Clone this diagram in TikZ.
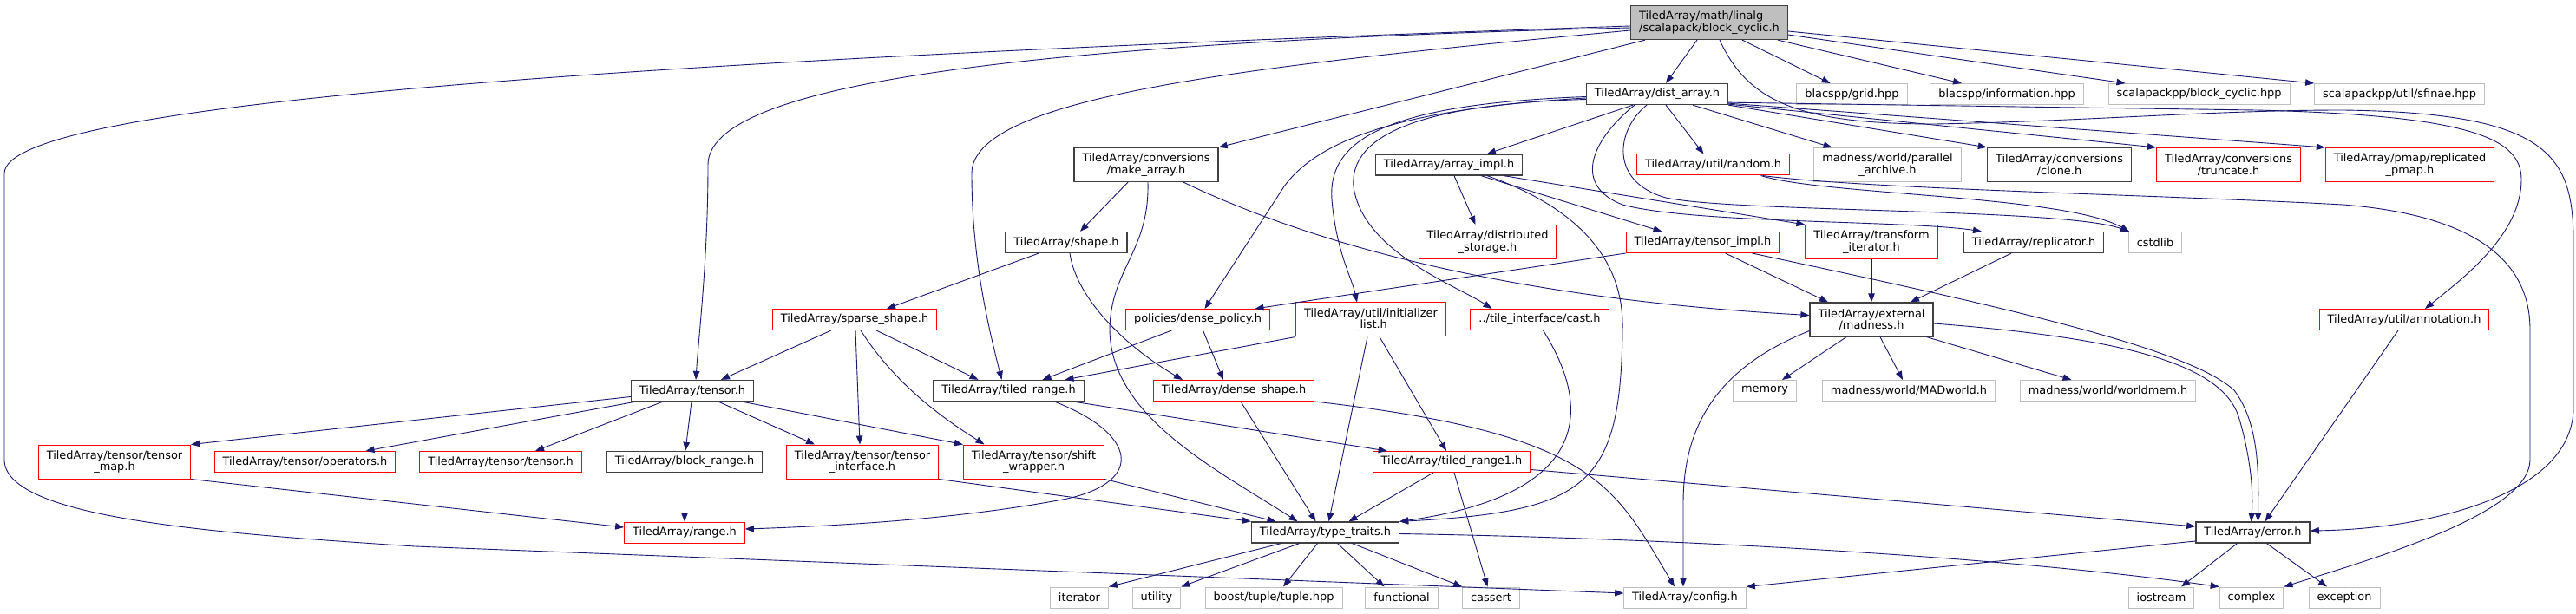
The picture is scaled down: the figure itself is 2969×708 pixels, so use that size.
\documentclass[tikz,border=0pt]{standalone}
\usepackage{fontspec}
\setmainfont{DejaVu Sans}
\usetikzlibrary{arrows.meta}
\definecolor{depblue}{HTML}{191970}
\definecolor{docgray}{HTML}{404040}
\definecolor{sysgray}{HTML}{BFBFBF}
\definecolor{cutred}{HTML}{FF0000}
\begin{document}
\begin{tikzpicture}[x=1pt, y=-1pt,
    file/.style={draw, rectangle, fill=white, line width=1pt, inner xsep=9.5pt, inner ysep=4pt,
      minimum height=24pt, align=center, font=\fontsize{12.9}{13.5}\selectfont},
    docfile/.style={file, draw=docgray, line width=1.3pt},
    cutfile/.style={file, draw=cutred},
    sysfile/.style={file, draw=sysgray},
    rootfile/.style={file, draw=docgray, fill=sysgray, line width=1.3pt, align=left},
    twoline/.style={minimum height=39pt},
    dep/.style={draw=depblue, line width=0.9pt, -{Triangle[length=10pt,width=7.5pt]}}]
    \fill[white] (0,0) rectangle (2969,708);
    \useasboundingbox (0,0) rectangle (2969,708);

    \node[rootfile, twoline] (root) at (1970,26) {TiledArray/math/linalg\\/scalapack/block\_cyclic.h};

    \node[docfile] (dist) at (1910,108.5) {TiledArray/dist\_array.h};
    \node[sysfile] (grid) at (2134.5,108.5) {blacspp/grid.hpp};
    \node[sysfile] (info) at (2313,108.5) {blacspp/information.hpp};
    \node[sysfile] (scblock) at (2534.5,108.5) {scalapackpp/block\_cyclic.hpp};
    \node[sysfile] (sfinae) at (2765.5,108.5) {scalapackpp/util/sfinae.hpp};

    \node[docfile, twoline] (makearr) at (1321,190) {TiledArray/conversions\\/make\_array.h};
    \node[docfile] (arrimpl) at (1670,190) {TiledArray/array\_impl.h};
    \node[cutfile] (random) at (1974.5,190) {TiledArray/util/random.h};
    \node[sysfile, twoline] (parchive) at (2175.5,190) {madness/world/parallel\\\_archive.h};
    \node[docfile, twoline] (clone) at (2373.5,190) {TiledArray/conversions\\/clone.h};
    \node[cutfile, twoline] (truncate) at (2568.5,190) {TiledArray/conversions\\/truncate.h};
    \node[cutfile, twoline] (pmap) at (2777.5,190) {TiledArray/pmap/replicated\\\_pmap.h};

    \node[docfile] (shape) at (1229,279.5) {TiledArray/shape.h};
    \node[cutfile, twoline] (diststor) at (1714.5,279) {TiledArray/distributed\\\_storage.h};
    \node[cutfile] (tensimpl) at (1962.5,279.5) {TiledArray/tensor\_impl.h};
    \node[cutfile, twoline] (transit) at (2157,279) {TiledArray/transform\\\_iterator.h};
    \node[docfile] (replic) at (2344,279.5) {TiledArray/replicator.h};
    \node[sysfile] (cstdlib) at (2484,279.5) {cstdlib};

    \node[cutfile] (sparse) at (985,368.5) {TiledArray/sparse\_shape.h};
    \node[cutfile] (densepol) at (1380.5,368.5) {policies/dense\_policy.h};
    \node[cutfile, twoline] (initlist) at (1580,368.5) {TiledArray/util/initializer\\\_list.h};
    \node[cutfile] (cast) at (1774.5,368.5) {../tile\_interface/cast.h};
    \node[docfile, twoline] (madness) at (2157,368.5) {TiledArray/external\\/madness.h};
    \node[cutfile] (annot) at (2771,368.5) {TiledArray/util/annotation.h};

    \node[docfile] (tensor) at (798,450.5) {TiledArray/tensor.h};
    \node[docfile] (tiledrange) at (1162.5,450.5) {TiledArray/tiled\_range.h};
    \node[cutfile] (denseshape) at (1422,450.5) {TiledArray/dense\_shape.h};
    \node[sysfile] (memory) at (2034,450.5) {memory};
    \node[sysfile] (madworld) at (2200,450.5) {madness/world/MADworld.h};
    \node[sysfile] (worldmem) at (2429.5,450.5) {madness/world/worldmem.h};

    \node[cutfile, twoline] (tmap) at (132,532.5) {TiledArray/tensor/tensor\\\_map.h};
    \node[cutfile] (oper) at (351.5,532.5) {TiledArray/tensor/operators.h};
    \node[cutfile] (ttensor) at (577,532.5) {TiledArray/tensor/tensor.h};
    \node[docfile] (blockrange) at (789,532.5) {TiledArray/block\_range.h};
    \node[cutfile, twoline] (tiface) at (994,532.5) {TiledArray/tensor/tensor\\\_interface.h};
    \node[cutfile, twoline] (shiftw) at (1191.5,532.5) {TiledArray/tensor/shift\\\_wrapper.h};
    \node[cutfile] (tr1) at (1673,532.5) {TiledArray/tiled\_range1.h};

    \node[cutfile] (range) at (789,614) {TiledArray/range.h};
    \node[docfile] (typetr) at (1527.5,614) {TiledArray/type\_traits.h};
    \node[docfile] (error) at (2596.5,614) {TiledArray/error.h};

    \node[sysfile] (iterator) at (1244,689) {iterator};
    \node[sysfile] (utility) at (1333,689) {utility};
    \node[sysfile] (boosttuple) at (1468,689) {boost/tuple/tuple.hpp};
    \node[sysfile] (functional) at (1615.5,689) {functional};
    \node[sysfile] (cassert) at (1718.5,689) {cassert};
    \node[sysfile] (config) at (1942,689) {TiledArray/config.h};
    \node[sysfile] (iostream) at (2491,689) {iostream};
    \node[sysfile] (complex) at (2595,689) {complex};
    \node[sysfile] (exception) at (2702,689) {exception};

    \draw[dep] ([xshift=-14pt]root.south) -- ([xshift=10pt]dist.north);
    \draw[dep] ([xshift=38pt]root.south) -- ([xshift=-25pt]grid.north);
    \draw[dep] ([xshift=-12pt]root.south east) -- ([xshift=-52pt]info.north);
    \draw[dep] ([yshift=-14pt]root.east) -- ([xshift=-85pt]scblock.north);
    \draw[dep] ([yshift=-10pt]root.east) -- (sfinae.north west);
    \draw[dep] ([xshift=17pt]root.south west) -- (makearr.north east);
    \draw[dep] ([yshift=-9pt]root.west) .. controls (1450,75) and (1120,110) .. (1120,200)
        .. controls (1120,300) and (1140,380) .. ([xshift=-8pt]tiledrange.north);
    \draw[dep] ([yshift=-6pt]root.west) .. controls (1150,50) and (816,100) .. (816,190)
        .. controls (816,300) and (805,390) .. ([xshift=4pt]tensor.north);
    \draw[dep] ([yshift=-4pt]root.west) .. controls (700,70) and (5,120) .. (5,200) -- (5,530)
        .. controls (5,598) and (250,615) .. (478,630) -- ([yshift=5pt]config.west);
    \draw[dep] ([xshift=12pt]root.south) .. controls (2015,118) and (2075,143) .. (2230,143)
        .. controls (2400,140) and (2550,127) .. (2700,127) .. controls (2940,130) and (2966,180) .. (2966,280)
        -- (2966,470) .. controls (2966,570) and (2800,610) .. ([yshift=2pt]error.east);

    \draw[dep] ([xshift=-28pt]dist.south) -- ([xshift=44pt]arrimpl.north);
    \draw[dep] ([xshift=10pt]dist.south) -- ([xshift=-11pt]random.north);
    \draw[dep] ([xshift=41pt]dist.south) -- ([xshift=-64pt]parchive.north);
    \draw[dep] (dist.south east) -- (clone.north west);
    \draw[dep] ([yshift=1pt]dist.south east) -- (truncate.north west);
    \draw[dep] ([yshift=2pt]dist.south east) -- (pmap.north west);
    \draw[dep] ([yshift=3pt]dist.south east) -- (2600,127) .. controls (2850,133) and (2906,160) .. (2906,207)
        .. controls (2906,270) and (2840,320) .. ([xshift=24pt]annot.north);
    \draw[dep] ([yshift=-3pt]dist.west) .. controls (1600,120) and (1530,160) .. (1535,230)
        .. controls (1540,290) and (1558,320) .. ([xshift=-16pt]initlist.north);
    \draw[dep] ([yshift=-6pt]dist.west) .. controls (1640,120) and (1555,155) .. (1560,215)
        .. controls (1570,290) and (1680,330) .. ([xshift=-55pt]cast.north);
    \draw[dep] ([yshift=-4.5pt]dist.west) .. controls (1620,125) and (1520,160) .. (1480,215)
        -- ([xshift=8pt]densepol.north);
    \draw[dep] ([xshift=-12pt]dist.south) .. controls (1862,150) and (1855,210) .. (1920,228)
        .. controls (2000,245) and (2380,240) .. ([xshift=-30pt]cstdlib.north);
    \draw[dep] ([xshift=-26pt]dist.south) .. controls (1830,165) and (1815,215) .. (1870,236)
        .. controls (1950,258) and (2200,254) .. ([xshift=-60pt]replic.north);

    \draw[dep] ([xshift=6pt]arrimpl.south) -- ([xshift=-14pt]diststor.north);
    \draw[dep] ([xshift=37pt]arrimpl.south) -- ([xshift=-47pt]tensimpl.north);
    \draw[dep] ([xshift=63pt]arrimpl.south) -- (transit.north west);
    \draw[dep] ([xshift=44pt]arrimpl.south) .. controls (1820,240) and (1872,300) .. (1870,380)
        .. controls (1868,560) and (1830,590) .. (typetr.north east);

    \draw[dep] ([xshift=-21pt]makearr.south) -- ([xshift=16pt]shape.north);
    \draw[dep] ([xshift=2pt]makearr.south) .. controls (1325,290) and (1280,310) .. (1279,380)
        .. controls (1280,480) and (1400,540) .. ([xshift=-32pt]typetr.north);
    \draw[dep] ([xshift=43pt]makearr.south) .. controls (1520,285) and (1750,345) .. ([yshift=5pt]madness.west);

    \draw[dep] ([xshift=-32pt]shape.south) -- ([xshift=37pt]sparse.north);
    \draw[dep] ([xshift=4pt]shape.south) .. controls (1240,340) and (1290,395) .. ([xshift=-59pt]denseshape.north);

    \draw[dep] ([xshift=-27pt]sparse.south) -- ([xshift=33pt]tensor.north);
    \draw[dep] ([xshift=25pt]sparse.south) -- ([xshift=-35pt]tiledrange.north);
    \draw[dep] ([xshift=1pt]sparse.south) -- ([xshift=-3pt]tiface.north);
    \draw[dep] ([xshift=7pt]sparse.south) .. controls (1030,440) and (1080,478) .. ([xshift=-57pt]shiftw.north);

    \draw[dep] ([xshift=-30pt]densepol.south) -- ([xshift=39pt]tiledrange.north);
    \draw[dep] ([xshift=6pt]densepol.south) -- ([xshift=-12pt]denseshape.north);

    \draw[dep] (tensimpl.south west) -- ([xshift=66pt]densepol.north);
    \draw[dep] ([xshift=26pt]tensimpl.south) -- ([xshift=-50pt]madness.north);
    \draw[dep] ([xshift=57pt]tensimpl.south) .. controls (2300,352) and (2520,400) .. (2575,450)
        .. controls (2605,490) and (2603,550) .. ([xshift=6pt]error.north);

    \draw[dep] (transit.south) -- (madness.north);
    \draw[dep] ([xshift=-26pt]replic.south) -- ([xshift=45pt]madness.north);

    \draw[dep] ([xshift=55pt]random.south) .. controls (2100,225) and (2380,225) .. ([xshift=-30pt]cstdlib.north);
    \draw[dep] ([xshift=57pt]random.south) .. controls (2150,218) and (2500,225) .. (2700,236)
        .. controls (2880,250) and (2916,320) .. (2916,380) -- (2916,530)
        .. controls (2916,590) and (2750,640) .. (complex.north east);

    \draw[dep] ([xshift=-29pt]madness.south) -- ([xshift=20pt]memory.north);
    \draw[dep] ([xshift=10pt]madness.south) -- ([xshift=-7pt]madworld.north);
    \draw[dep] ([xshift=-8pt]madness.south east) -- ([xshift=-42pt]worldmem.north);
    \draw[dep] ([yshift=-13pt]madness.west) .. controls (1990,420) and (1940,480) .. (1940,580)
        -- ([xshift=-2pt]config.north);
    \draw[dep] ([yshift=-4.5pt]madness.east) .. controls (2450,390) and (2560,420) .. (2580,480)
        .. controls (2595,530) and (2597,570) .. ([xshift=-2pt]error.north);

    \draw[dep] ([xshift=-7pt]annot.south) -- ([xshift=14pt]error.north);

    \draw[dep] ([yshift=-7pt]tensor.west) -- (tmap.north east);
    \draw[dep] ([xshift=6pt]tensor.south west) -- ([xshift=70pt]oper.north);
    \draw[dep] ([xshift=-34pt]tensor.south) -- ([xshift=40pt]ttensor.north);
    \draw[dep] ([xshift=-1pt]tensor.south) -- ([xshift=1pt]blockrange.north);
    \draw[dep] ([xshift=30pt]tensor.south) -- ([xshift=-55pt]tiface.north);
    \draw[dep] ([xshift=57pt]tensor.south) -- (shiftw.north west);

    \draw[dep] (blockrange.south) -- (range.north);
    \draw[dep] ([xshift=53pt]tiledrange.south) .. controls (1310,500) and (1320,555) .. (1230,575)
        .. controls (1100,600) and (950,607) .. ([yshift=4pt]range.east);
    \draw[dep] ([xshift=75pt]tiledrange.south) -- ([xshift=17pt]tr1.north west);
    \draw[dep] (tmap.south east) -- ([yshift=6pt]range.west);

    \draw[dep] (tiface.south east) -- (typetr.north west);
    \draw[dep] (shiftw.south east) -- ([xshift=-57pt]typetr.north);
    \draw[dep] ([xshift=8pt]denseshape.south) -- ([xshift=-11pt]typetr.north);
    \draw[dep] (denseshape.south east) .. controls (1840,500) and (1860,560) .. ([xshift=-12pt]config.north);

    \draw[dep] ([xshift=-4pt]initlist.south) -- ([xshift=4pt]typetr.north);
    \draw[dep] ([xshift=10pt]initlist.south) -- ([xshift=-6pt]tr1.north);
    \draw[dep] (initlist.south west) -- ([xshift=65pt]tiledrange.north);

    \draw[dep] ([xshift=4pt]cast.south) .. controls (1835,470) and (1835,570) .. (typetr.north east);

    \draw[dep] ([xshift=-21pt]tr1.south) -- ([xshift=27pt]typetr.north);
    \draw[dep] ([xshift=3pt]tr1.south) -- ([xshift=-4pt]cassert.north);
    \draw[dep] ([yshift=-9pt]tr1.east) -- ([yshift=7pt]error.west);

    \draw[dep] ([xshift=-51pt]typetr.south) -- (iterator.north east);
    \draw[dep] ([xshift=-30pt]typetr.south) -- (utility.north east);
    \draw[dep] ([xshift=-9pt]typetr.south) -- ([xshift=11pt]boosttuple.north);
    \draw[dep] ([xshift=14pt]typetr.south) -- ([xshift=-20pt]functional.north);
    \draw[dep] ([xshift=31pt]typetr.south) -- (cassert.north west);
    \draw[dep] ([yshift=-1.5pt]typetr.east) .. controls (1900,620) and (2300,640) .. (complex.north west);

    \draw[dep] ([xshift=-18pt]error.south) -- ([xshift=23pt]iostream.north);
    \draw[dep] ([xshift=16pt]error.south) -- ([xshift=-20pt]exception.north);
    \draw[dep] ([yshift=-10pt]error.west) -- (config.north east);
\end{tikzpicture}
\end{document}
